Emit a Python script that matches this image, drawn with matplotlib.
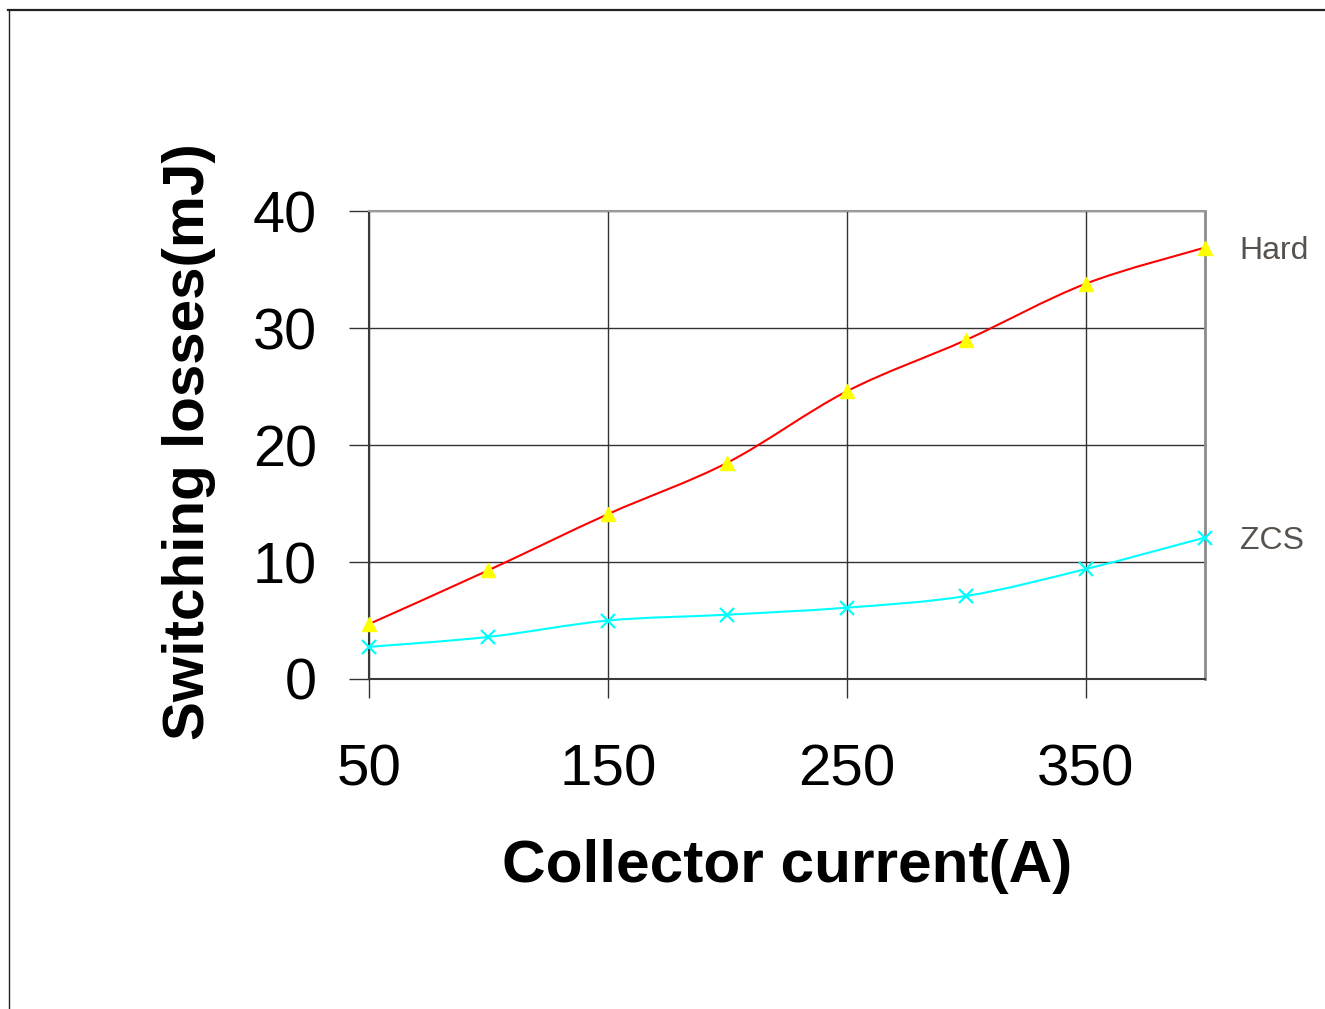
import numpy as np
import matplotlib
matplotlib.use("Agg")
import matplotlib.pyplot as plt
from matplotlib.path import Path
from matplotlib.patches import PathPatch
from matplotlib.lines import Line2D

# Switching losses versus collector current
current_a = [50, 100, 150, 200, 250, 300, 350, 400]
hard_mj = [4.7, 9.3, 14.1, 18.5, 24.6, 29.0, 33.8, 36.9]
zcs_mj = [2.75, 3.6, 5.0, 5.5, 6.1, 7.1, 9.4, 12.1]

series_names = ["Hard", "ZCS"]
x_ticks = [50, 150, 250, 350]
y_ticks = [0, 10, 20, 30, 40]

plt.rcParams["font.family"] = ["Liberation Sans", "DejaVu Sans"]

W, H = 1325, 1009
fig = plt.figure(figsize=(W / 100, H / 100), dpi=100)
ax = fig.add_axes([369 / W, 1 - 679 / H, (1205 - 369) / W, (679 - 211.3) / H])


def smooth_path(xs, ys):
    """Cubic Bezier path through the points (Catmull-Rom style smoothing)."""
    p = np.column_stack([xs, ys]).astype(float)
    ext = np.vstack([p[0], p, p[-1]])
    verts = [p[0]]
    codes = [Path.MOVETO]
    for i in range(len(p) - 1):
        p0, p1, p2, p3 = ext[i], ext[i + 1], ext[i + 2], ext[i + 3]
        c1 = p1 + (p2 - p0) / 6.0
        c2 = p2 - (p3 - p1) / 6.0
        verts += [c1, c2, p2]
        codes += [Path.CURVE4] * 3
    return Path(verts, codes)


ax.add_patch(PathPatch(smooth_path(current_a, hard_mj), fill=False,
                       edgecolor="#ff0000", lw=1.5, zorder=3))
ax.add_patch(PathPatch(smooth_path(current_a, zcs_mj), fill=False,
                       edgecolor="#00ffff", lw=1.5, zorder=3))

ax.plot(current_a, hard_mj, linestyle="none", marker="^", ms=10.5,
        mfc="#ffff00", mec="#ffff00", zorder=4, clip_on=False)
ax.plot(current_a, zcs_mj, linestyle="none", marker="x", ms=10,
        mec="#00ffff", mew=1.6, zorder=4, clip_on=False)

# series names at the end of each curve
for name, vals in zip(series_names, [hard_mj, zcs_mj]):
    ax.annotate(name, xy=(current_a[-1], vals[-1]), xytext=(25, -2.5),
                textcoords="offset points", ha="left", va="center",
                fontsize=23, color="#57524d", annotation_clip=False)

ax.set_xlim(50, 400)
ax.set_ylim(0, 40)
ax.set_xticks(x_ticks)
ax.set_yticks(y_ticks)
ax.tick_params(axis="y", direction="out", length=14.4, width=1.0,
               color="#333333", pad=23, labelsize=41.5)
ax.tick_params(axis="x", direction="out", length=13.7, width=1.0,
               color="#333333", pad=33, labelsize=42)

ax.grid(True, color="#333333", lw=1.0)
ax.set_axisbelow(True)

for side, col, lw in [("left", "#3a3a3a", 1.5), ("bottom", "#3a3a3a", 1.5),
                      ("top", "#9a9a9a", 1.5), ("right", "#8c8c8c", 2.0)]:
    ax.spines[side].set_color(col)
    ax.spines[side].set_linewidth(lw)

ax.set_xlabel("Collector current(A)", fontsize=43.5, fontweight="bold")
ax.set_ylabel("Switching losses(mJ)", fontsize=42, fontweight="bold")
ax.xaxis.set_label_coords(0.5, -(839 - 679) / 467.7)
ax.yaxis.set_label_coords((216 - 369) / 836, 0.5 + 4 / 467.7)

# outer frame lines along the top and left edges
fig.add_artist(Line2D([8 / W, 1.0], [1 - 9.5 / H, 1 - 9.5 / H],
                      transform=fig.transFigure, color="#222222", lw=1.6))
fig.add_artist(Line2D([8.5 / W, 8.5 / W], [0.0, 1 - 9.5 / H],
                      transform=fig.transFigure, color="#222222", lw=1.0))

fig.savefig("out.png", dpi=100, facecolor="white")
